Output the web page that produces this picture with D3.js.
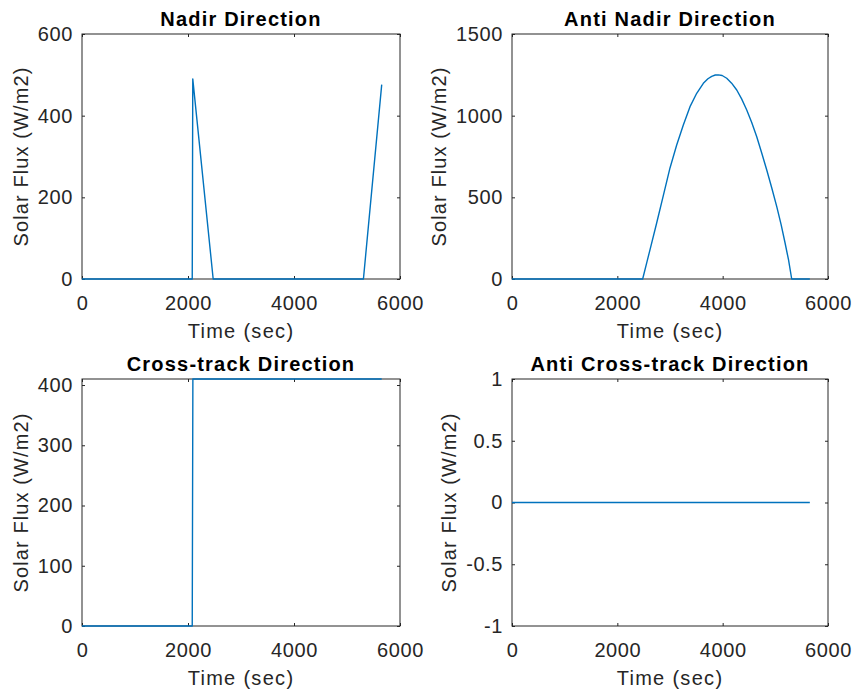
<!DOCTYPE html>
<html>
  <head>
    <title>Solar Flux</title>
    <script src="https://d3js.org/d3.v7.min.js"></script>
    <style>
      body { margin: 0; background: #fff; }
      text { font-family: "Liberation Sans", Arial, sans-serif; }
    </style>
  </head>
  <body>
    <svg width="853" height="693"></svg>
    <script>
      // values
      const titles = ["Nadir Direction", "Anti Nadir Direction", "Cross-track Direction", "Anti Cross-track Direction"];

      const nadirTime = [0, 2080, 2090, 2475, 5310, 5655];
      const nadirFlux = [0, 0, 490, 0, 0, 476];

      const antiNadirTime = [0, 2481, 2560, 2621, 2747, 2874, 3000, 3127, 3253, 3380, 3507, 3633, 3720, 3792, 3860, 3918, 3990,
                             4077, 4170, 4267, 4360, 4457, 4550, 4647, 4740, 4837, 4930, 5027, 5110, 5184, 5250, 5311, 5655];
      const antiNadirFlux = [0, 0, 102, 180, 343, 512, 680, 820, 943, 1055, 1137, 1198, 1226, 1241, 1249, 1250, 1246,
                             1229, 1199, 1157, 1103, 1035, 960, 871, 773, 667, 560, 443, 333, 222, 118, 0, 0];

      const crossTime = [0, 2080, 2092, 5655];
      const crossFlux = [0, 0, 410, 410];

      const antiCrossTime = [0, 5655];
      const antiCrossFlux = [0, 0];

      const xTicks = [0, 2000, 4000, 6000];
      const nadirTicks = [0, 200, 400, 600];
      const antiNadirTicks = [0, 500, 1000, 1500];
      const crossTicks = [0, 100, 200, 300, 400];
      const antiCrossTicks = [-1, -0.5, 0, 0.5, 1];

      const panels = [
        { title: titles[0], t: nadirTime, f: nadirFlux, yDomain: [0, 600], yTicks: nadirTicks, x0: 82, x1: 400, y0: 34, y1: 279 },
        { title: titles[1], t: antiNadirTime, f: antiNadirFlux, yDomain: [0, 1500], yTicks: antiNadirTicks, x0: 512, x1: 828, y0: 34, y1: 279 },
        { title: titles[2], t: crossTime, f: crossFlux, yDomain: [0, 410], yTicks: crossTicks, x0: 82, x1: 400, y0: 379, y1: 626 },
        { title: titles[3], t: antiCrossTime, f: antiCrossFlux, yDomain: [-1, 1], yTicks: antiCrossTicks, x0: 512, x1: 828, y0: 379, y1: 626 }
      ];

      const svg = d3.select("svg");
      const ink = "#262626";
      const fmt = d => String(d);

      panels.forEach(p => {
        const xScale = d3.scaleLinear().domain([0, 6000]).range([p.x0, p.x1]);
        const yScale = d3.scaleLinear().domain(p.yDomain).range([p.y1, p.y0]);
        const g = svg.append("g");

        // box
        g.append("rect")
          .attr("x", p.x0).attr("y", p.y0)
          .attr("width", p.x1 - p.x0).attr("height", p.y1 - p.y0)
          .attr("fill", "#fff").attr("stroke", ink).attr("stroke-width", 1);

        // axes, ticks pointing inward on all four sides
        g.append("g").attr("transform", `translate(0,${p.y1})`)
          .call(d3.axisBottom(xScale).tickValues(xTicks).tickFormat(fmt).tickSizeInner(-3).tickSizeOuter(0).tickPadding(17));
        g.append("g").attr("transform", `translate(0,${p.y0})`)
          .call(d3.axisTop(xScale).tickValues(xTicks).tickFormat("").tickSizeInner(-3).tickSizeOuter(0));
        const left = g.append("g").attr("transform", `translate(${p.x0},0)`)
          .call(d3.axisLeft(yScale).tickValues(p.yTicks).tickFormat(fmt).tickSizeInner(-3).tickSizeOuter(0).tickPadding(9));
        g.append("g").attr("transform", `translate(${p.x1},0)`)
          .call(d3.axisRight(yScale).tickValues(p.yTicks).tickFormat("").tickSizeInner(-3).tickSizeOuter(0));

        g.selectAll(".domain").remove();
        g.selectAll(".tick line").attr("stroke", ink);
        g.selectAll(".tick text").attr("fill", ink).attr("font-size", 20).attr("letter-spacing", 0.6)
          .attr("font-family", "'Liberation Sans', Arial, sans-serif");

        // data line
        const line = d3.line().x(i => xScale(p.t[i])).y(i => yScale(p.f[i]));
        g.append("path")
          .attr("d", line(d3.range(p.t.length)))
          .attr("fill", "none").attr("stroke", "#0072BD").attr("stroke-width", 1.4)
          .attr("stroke-linejoin", "round");

        // title
        g.append("text")
          .attr("x", (p.x0 + p.x1) / 2).attr("y", p.y0 - 8)
          .attr("text-anchor", "middle").attr("font-weight", "bold")
          .attr("font-size", 20).attr("letter-spacing", 1.2).attr("fill", "#000")
          .text(p.title);

        // x label
        g.append("text")
          .attr("x", (p.x0 + p.x1) / 2).attr("y", p.y1 + 59)
          .attr("text-anchor", "middle").attr("font-size", 20).attr("letter-spacing", 1.3)
          .attr("fill", ink).text("Time (sec)");

        // y label, placed left of the widest tick label
        let minX = p.x0;
        left.selectAll(".tick text").each(function () {
          const b = this.getBBox();
          minX = Math.min(minX, p.x0 + b.x);
        });
        const lx = minX - 10;
        g.append("text")
          .attr("transform", `translate(${lx},${(p.y0 + p.y1) / 2}) rotate(-90)`)
          .attr("text-anchor", "middle").attr("font-size", 20).attr("letter-spacing", 1.1)
          .attr("fill", ink).text("Solar Flux (W/m2)");
      });
    </script>
  </body>
</html>
